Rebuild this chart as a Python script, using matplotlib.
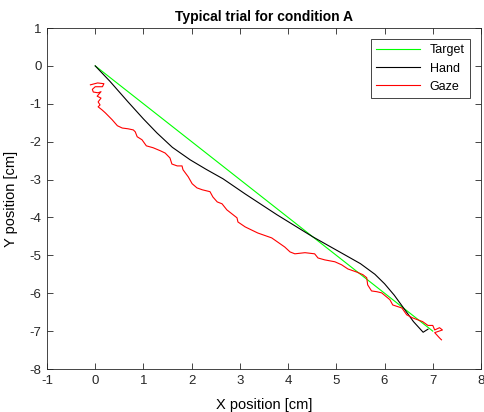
import matplotlib
matplotlib.use("Agg")
import matplotlib.pyplot as plt

plt.rcParams['font.family'] = ['Liberation Sans', 'DejaVu Sans']
plt.rcParams['axes.unicode_minus'] = False

# target: straight reach
target_x = [0.0, 7.0]
target_y = [0.0, -7.0]

# hand trajectory
hand_x = [0.0, 0.3, 0.68, 1.0, 1.28, 1.6, 1.97, 2.3, 2.65, 3.11, 3.77, 4.51, 5.18,
          5.5, 5.8, 6.0, 6.2, 6.4, 6.6, 6.8, 6.9]
hand_y = [0.0, -0.4, -0.95, -1.4, -1.77, -2.15, -2.48, -2.73, -2.98, -3.38, -3.93,
          -4.51, -4.99, -5.22, -5.5, -5.75, -6.05, -6.4, -6.75, -7.03, -6.95]

# gaze trajectory
gaze_x = [-0.1, 0.05, 0.18, 0.15, 0.0, -0.06, -0.04, 0.06, 0.12, 0.04, 0.12, 0.06, 0.1,
          0.06, 0.14, 0.21, 0.35, 0.46, 0.56, 0.68, 0.79, 0.83, 0.87, 0.97, 1.06, 1.20,
          1.35, 1.45, 1.55, 1.59, 1.70, 1.80, 1.82, 1.93, 2.01, 2.11, 2.22, 2.38, 2.44,
          2.53, 2.63, 2.73, 2.86, 2.94, 2.96, 3.11, 3.37, 3.66, 3.93, 4.04, 4.14, 4.35,
          4.55, 4.62, 4.76, 4.97, 5.11, 5.24, 5.42, 5.55, 5.63, 5.65, 5.73, 5.84, 5.94,
          6.11, 6.17, 6.36, 6.46, 6.58, 6.79, 6.9, 7.0, 7.04, 7.14, 7.2, 7.04, 7.14, 7.18]
gaze_y = [-0.5, -0.45, -0.47, -0.55, -0.55, -0.62, -0.69, -0.71, -0.68, -0.8, -0.85,
          -0.95, -1.03, -1.08, -1.16, -1.24, -1.42, -1.58, -1.64, -1.66, -1.69, -1.74,
          -1.87, -1.95, -2.11, -2.16, -2.24, -2.30, -2.43, -2.59, -2.64, -2.64, -2.74,
          -2.93, -3.11, -3.22, -3.27, -3.32, -3.46, -3.59, -3.64, -3.80, -3.93, -4.01,
          -4.12, -4.25, -4.41, -4.54, -4.78, -4.91, -4.96, -4.93, -4.96, -5.07, -5.12,
          -5.17, -5.25, -5.36, -5.44, -5.51, -5.59, -5.78, -5.94, -5.96, -5.99, -6.17,
          -6.31, -6.39, -6.57, -6.65, -6.75, -6.85, -6.85, -6.97, -6.91, -6.97, -7.04,
          -7.18, -7.23]

fig = plt.figure(figsize=(4.84, 4.12), dpi=100)
ax = fig.add_axes([47 / 484, 1 - 369 / 412, 434 / 484, 341 / 412])

ax.plot(target_x, target_y, color='#00ff00', linewidth=0.8, label='Target')
ax.plot(hand_x, hand_y, color='black', linewidth=0.8, label='Hand')
ax.plot(gaze_x, gaze_y, color='red', linewidth=0.8, label='Gaze')

ax.set_xlim(-1, 8)
ax.set_ylim(-8, 1)
ax.set_xticks(range(-1, 9))
ax.set_yticks(range(-8, 2))
ax.tick_params(direction='in', top=True, right=True, labelsize=9.5, length=4,
               width=0.6, colors='#262626', pad=4)
for s in ax.spines.values():
    s.set_linewidth(0.6)
    s.set_color('#262626')

ax.set_title('Typical trial for condition A', fontsize=10, fontweight='bold', pad=5)
ax.set_xlabel('X position [cm]', fontsize=10.5, labelpad=8)
ax.set_ylabel('Y position [cm]', fontsize=10.5, labelpad=8)

leg = ax.legend(loc='upper right', fontsize=9, fancybox=False, framealpha=1,
                edgecolor='#262626', handlelength=3.5, borderaxespad=0.9)
leg.get_frame().set_linewidth(0.6)

fig.savefig('out.png', dpi=100)
